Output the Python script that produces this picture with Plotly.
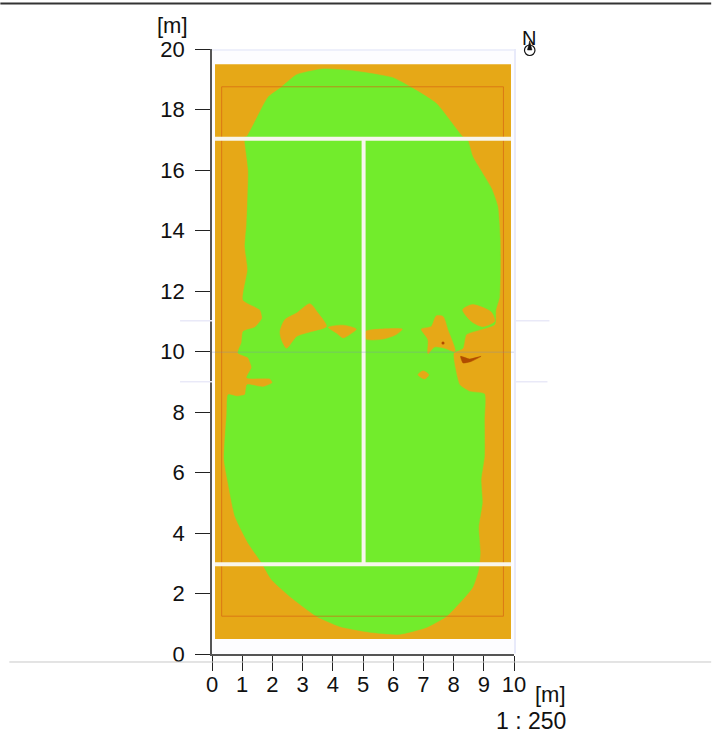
import plotly.graph_objects as go

FONT = "Liberation Sans"
tick_vals_x = list(range(0, 11))
tick_vals_y = list(range(0, 21, 2))

slab_x = [0.1, 9.9, 9.9, 0.1, 0.1]
slab_y = [0.5, 0.5, 19.5, 19.5, 0.5]
inner_x = [0.32, 9.65, 9.65, 0.32, 0.32]
inner_y = [1.25, 1.25, 18.75, 18.75, 1.25]

green_x = [1.09, 1.15, 1.85, 2.25, 2.8, 3.68, 4.66, 5.99, 6.65, 7.43, 8.3, 8.46, 8.63, 9.25, 9.46, 9.54, 9.52,
           9.4, 9.36, 8.42, 8.31, 8.0, 8.05, 8.2, 8.53, 9.02, 9.02, 9.02, 8.91, 8.95, 8.83, 8.88, 8.83, 8.63,
           7.77, 7.1, 6.2, 5.22, 4.23, 3.47, 2.58, 1.97, 1.64, 1.19, 0.76, 0.53, 0.4, 0.49, 0.53, 0.82, 1.09,
           1.16, 1.69, 2.0, 1.92, 1.15, 1.31, 1.19, 0.86, 0.98, 1.03, 1.42, 1.66, 1.59, 1.03, 1.18, 1.09, 1.15, 1.2, 1.09, 1.09]
green_y = [17.1, 17.1, 18.4, 18.7, 19.15, 19.34, 19.28, 19.05, 18.7, 18.2, 17.1, 17.0, 16.45, 15.4, 14.8, 13.7, 11.8,
           11.38, 10.89, 10.56, 10.11, 9.95, 9.47, 8.9, 8.68, 8.6, 7.75, 6.53, 5.77, 5.0, 4.2, 3.35, 2.8, 2.2,
           1.25, 0.88, 0.65, 0.72, 0.91, 1.24, 1.9, 2.46, 3.02, 3.68, 4.55, 5.66, 6.43, 7.97, 8.57, 8.52, 8.57,
           8.9, 8.83, 8.97, 9.1, 9.13, 9.47, 9.8, 9.95, 10.3, 10.66, 10.8, 11.1, 11.38, 11.7, 12.7, 13.47, 14.25, 16.0, 16.9, 17.1]

patch_a_x = [2.25, 2.41, 2.8, 3.24, 3.51, 3.79, 3.29, 2.8, 2.47, 2.3, 2.25]
patch_a_y = [10.66, 11.05, 11.27, 11.58, 11.27, 10.83, 10.66, 10.5, 10.11, 10.39, 10.66]
patch_b_x = [3.85, 4.34, 4.78, 4.56, 4.34, 4.12, 3.85]
patch_b_y = [10.8, 10.87, 10.74, 10.56, 10.45, 10.61, 10.8]
patch_c_x = [5.09, 5.55, 6.3, 6.1, 5.66, 5.11, 5.09]
patch_c_y = [10.66, 10.74, 10.74, 10.56, 10.41, 10.41, 10.66]
patch_d_x = [6.93, 7.26, 7.43, 7.65, 7.81, 8.05, 7.7, 7.37, 7.15, 7.15, 6.93]
patch_d_y = [10.74, 10.83, 11.18, 11.16, 10.72, 10.0, 10.11, 10.15, 9.93, 10.39, 10.74]
patch_e_x = [6.82, 6.99, 7.18, 7.04, 6.82]
patch_e_y = [9.23, 9.36, 9.23, 9.09, 9.23]
patch_f_x = [8.3, 8.63, 9.25, 9.36, 8.96, 8.58, 8.3]
patch_f_y = [11.38, 11.55, 11.3, 11.0, 10.82, 11.0, 11.38]
hot_x = [8.23, 8.53, 8.91, 8.58, 8.31, 8.23]
hot_y = [9.84, 9.75, 9.84, 9.67, 9.62, 9.84]
hot_dot_x = [7.65]
hot_dot_y = [10.28]

line_top_y = [17.03, 17.03]
line_bottom_y = [2.97, 2.97]
line_span_x = [0.1, 9.9]
line_mid_x = [5.02, 5.02]
line_mid_y = [2.97, 17.03]

GREEN, ORANGE, RED_LINE, HOT = "#72ec2c", "#e6a817", "rgba(214,100,20,0.7)", "#b04c00"
WHITE = "#f8f6ec"

fig = go.Figure()


def poly(x, y, color, smooth=0.7):
    fig.add_trace(go.Scatter(x=x, y=y, mode="lines", fill="toself", fillcolor=color,
                             line=dict(color=color, width=0.5, shape="spline", smoothing=smooth),
                             hoverinfo="skip", showlegend=False))


fig.add_trace(go.Scatter(x=slab_x, y=slab_y, mode="lines", fill="toself", fillcolor=ORANGE,
                         line=dict(color=ORANGE, width=0), hoverinfo="skip", showlegend=False))
poly(green_x, green_y, GREEN, 0.5)
for px, py in [(patch_a_x, patch_a_y), (patch_b_x, patch_b_y), (patch_c_x, patch_c_y),
               (patch_d_x, patch_d_y), (patch_e_x, patch_e_y), (patch_f_x, patch_f_y)]:
    poly(px, py, ORANGE)
poly(hot_x, hot_y, HOT, 0.4)
fig.add_trace(go.Scatter(x=hot_dot_x, y=hot_dot_y, mode="markers", marker=dict(size=3, color=HOT),
                         hoverinfo="skip", showlegend=False))
fig.add_trace(go.Scatter(x=inner_x, y=inner_y, mode="lines", line=dict(color=RED_LINE, width=1),
                         hoverinfo="skip", showlegend=False))
for lx, ly in [(line_span_x, line_top_y), (line_span_x, line_bottom_y), (line_mid_x, line_mid_y)]:
    fig.add_trace(go.Scatter(x=lx, y=ly, mode="lines", line=dict(color=WHITE, width=4),
                             hoverinfo="skip", showlegend=False))

PW, PH, L, T = 302.5, 605.5, 212.0, 49.0


def X(px):
    return (px - L) / PW


def Y(py):
    return 1 - (py - T) / PH


def hline(p1, p2, py, color, width=1):
    fig.add_shape(type="line", xref="paper", yref="paper", x0=X(p1), x1=X(p2), y0=Y(py), y1=Y(py),
                  line=dict(color=color, width=width), layer="above")


hline(0, 712, 3.5, "#333333", 2)
hline(9, 712, 662.5, "#c8c8c8", 1)
FAINT = "#e9e9f8"
hline(180, 212, 321, FAINT, 1.5)
hline(515, 550, 321, FAINT, 1.5)
hline(180, 212, 382, FAINT, 1.5)
hline(515, 548, 382, FAINT, 1.5)
hline(212, 516, 50, "#eef0fb", 2)
hline(212, 516, 352.5, "rgba(120,130,200,0.22)", 1.5)
fig.add_shape(type="line", xref="paper", yref="paper", x0=X(515.5), x1=X(515.5), y0=Y(49), y1=Y(654),
              line=dict(color="#e8eafa", width=2), layer="above")
# north arrow
fig.add_shape(type="circle", xref="paper", yref="paper", x0=X(525), x1=X(535.5), y0=Y(55.5), y1=Y(45),
              line=dict(color="#111111", width=1.2), fillcolor="white", layer="above")
fig.add_shape(type="path", xref="paper", yref="paper",
              path=f"M {X(530.2)} {Y(41)} L {X(532.5)} {Y(50)} L {X(528)} {Y(50)} Z",
              line=dict(color="#111111", width=0.5), fillcolor="#111111", layer="above")


def note(text, px, py, anchor, size):
    fig.add_annotation(text=text, xref="paper", yref="paper", x=X(px), y=Y(py), xanchor=anchor, yanchor="middle",
                       showarrow=False, font=dict(family=FONT, size=size, color="#111111"),
                       borderpad=0, borderwidth=0)


note("[m]", 172, 25, "center", 22)
note("[m]", 551, 695, "center", 22)
note("1 : 250", 567, 722, "right", 23)
note("N", 530, 38, "center", 20)

axis = dict(showgrid=False, zeroline=False, showline=True, linecolor="#555555", linewidth=1.5,
            ticks="outside", ticklen=15, tickwidth=1, tickcolor="#222222",
            tickfont=dict(family=FONT, size=22, color="#111111"), fixedrange=True)
fig.update_xaxes(range=[0, 10], tickvals=tick_vals_x, ticklabelstandoff=-5, **axis)
fig.update_yaxes(range=[0, 20], tickvals=tick_vals_y, ticklabelstandoff=6, **axis)
fig.update_layout(width=712, height=733, autosize=False, paper_bgcolor="white", plot_bgcolor="#fdfdff",
                  margin=dict(l=212, r=197.5, t=49, b=78.5), showlegend=False)
fig.write_html("out.html", post_script="document.body.style.margin='0';", config=dict(displayModeBar=False))
